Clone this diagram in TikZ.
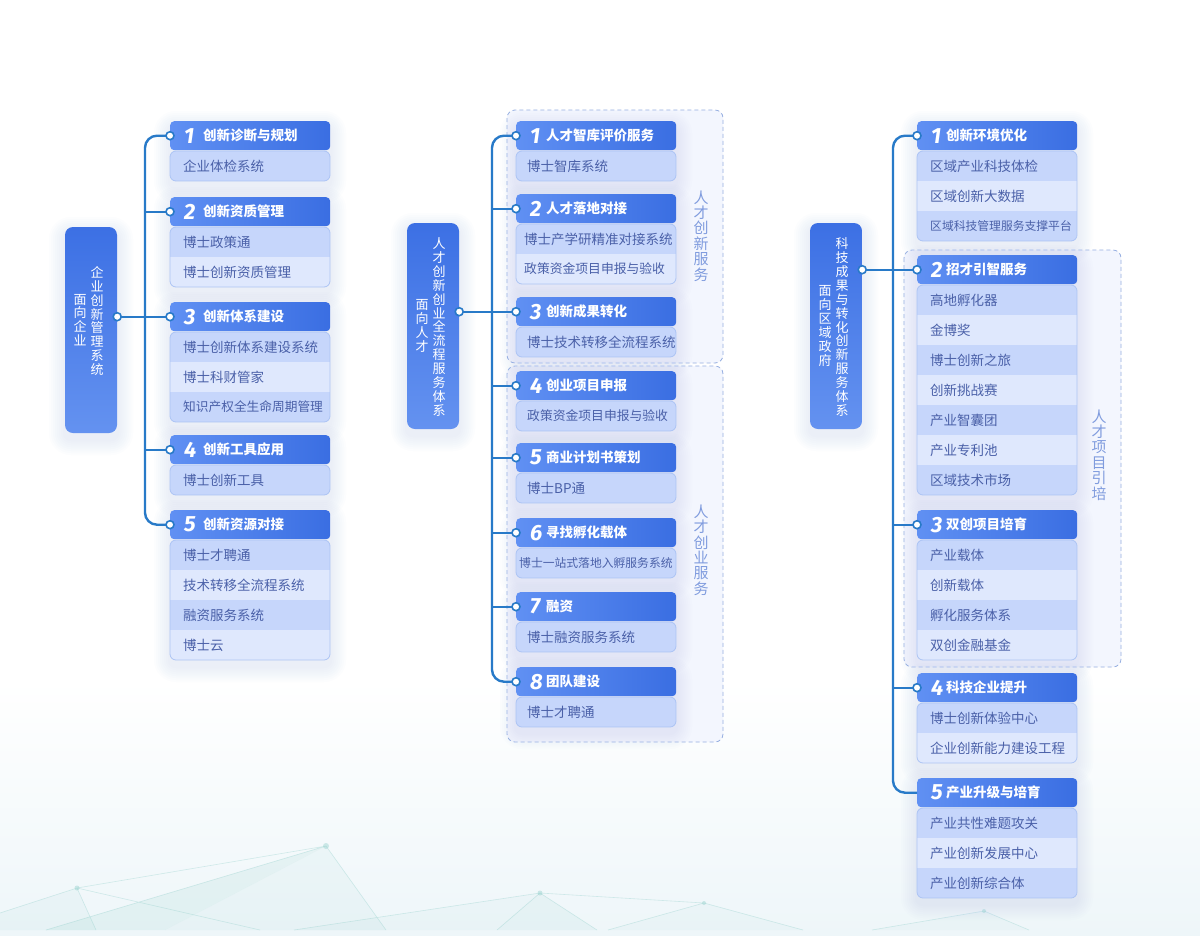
\documentclass[tikz,border=0pt]{standalone}
\usepackage{fontspec}
\setmainfont{Noto Sans CJK SC}
\newfontfamily\numfont{Fira Sans}
\usetikzlibrary{calc}
\definecolor{hdrL}{RGB}{96,144,243}
\definecolor{hdrR}{RGB}{58,110,226}
\definecolor{rowD}{RGB}{198,214,251}
\definecolor{rowL}{RGB}{223,232,253}
\definecolor{rowB}{RGB}{172,196,244}
\definecolor{subtxt}{RGB}{74,96,168}
\definecolor{mainT}{RGB}{60,112,228}
\definecolor{mainB}{RGB}{100,146,240}
\definecolor{spinec}{RGB}{40,122,200}
\definecolor{grpB}{RGB}{150,175,225}
\definecolor{grpF}{RGB}{243,246,254}
\definecolor{grptxt}{RGB}{128,156,222}
\definecolor{shadowc}{RGB}{180,198,242}
\definecolor{bgbot}{RGB}{238,246,249}
\definecolor{polyc}{RGB}{140,205,200}
\tikzset{
 hdr/.style={rectangle, rounded corners=4pt, minimum width=160pt, minimum height=29pt, left color=hdrL, right color=hdrR, inner sep=0pt},
 num/.style={font=\numfont\bfseries\itshape\fontsize{22}{22}\selectfont, text=white, inner sep=0pt},
 ttl/.style={font=\bfseries\fontsize{13.5}{14}\selectfont, text=white, inner sep=0pt},
 subt/.style={font=\fontsize{13.5}{14}\selectfont, text=subtxt, inner sep=0pt, anchor=west},
 spine/.style={draw=spinec, line width=2.4pt},
 dot/.style={circle, draw=spinec, fill=white, line width=1.6pt, minimum size=8pt, inner sep=0pt},
 mainbox/.style={rectangle, rounded corners=8pt, minimum width=52pt, minimum height=206pt, top color=mainT, bottom color=mainB, inner sep=0pt},
 vtext/.style={align=center, text=white, font=\fontsize{13}{13.9}\selectfont, inner sep=0pt},
 grp/.style={draw=grpB, dash pattern=on 4pt off 3pt, fill=grpF, rounded corners=8pt, line width=0.8pt},
 grptext/.style={align=center, text=grptxt, font=\fontsize{15}{15.4}\selectfont, inner sep=0pt},
}
\newcommand\softshadow[4]{%
 \foreach \e in {2,4,...,16} {
   \pgfmathsetmacro\rc{6+\e}
   \fill[shadowc, fill opacity=0.03, rounded corners=\rc pt] ({#1-\e},{#2-\e+6}) rectangle ({#3+\e},{#4+\e+6});
 }}
\def\ttlx{33}
\def\subx{13}
\newcommand\mkbranch[7]{%
 \softshadow{#2}{#3}{#2+160}{#3+30+#6*30}
 \node[hdr, anchor=north west] (#1) at (#2,#3) {};
 \node[num, anchor=west] (#1n) at ([xshift=14pt]#1.west) {#4};
 \node[ttl, anchor=west] (#1t) at ([xshift=\ttlx pt]#1.west) {#5};
 \begin{scope}
  \clip[rounded corners=6pt] (#2,{#3+30}) rectangle ({#2+160},{#3+30+#6*30});
  \fill[rowL] (#2,{#3+30}) rectangle ({#2+160},{#3+30+#6*30});
  \foreach \s [count=\i] in {#7} {
    \ifodd\i \fill[rowD] (#2,{#3+30+(\i-1)*30}) rectangle ({#2+160},{#3+30+\i*30}); \fi
  }
 \end{scope}
 \draw[rowB, line width=0.8pt, rounded corners=6pt] (#2,{#3+30}) rectangle ({#2+160},{#3+30+#6*30});
 \foreach \s [count=\i] in {#7} {
   \node[subt] (#1s\i) at ({#2+\subx},{#3+30+(\i-0.5)*30}) {\s};
 }
}
\begin{document}
\begin{tikzpicture}[x=1pt,y=-1pt]
\useasboundingbox (0,0) rectangle (1200,935);
\fill[white] (0,0) rectangle (1200,935);
\fill[top color=white, bottom color=bgbot] (0,680) rectangle (1200,935);
% low-poly background
\begin{scope}
 \fill[polyc, fill opacity=0.14] (326,846) -- (46,930) -- (165,930) -- cycle;
 \fill[polyc, fill opacity=0.08] (326,846) -- (165,930) -- (386,930) -- cycle;
 \fill[polyc, fill opacity=0.08] (77,888) -- (0,913) -- (0,930) -- (96,930) -- cycle;
 \fill[polyc, fill opacity=0.10] (540,893) -- (497,930) -- (597,930) -- cycle;
 \fill[polyc, fill opacity=0.06] (540,893) -- (294,930) -- (497,930) -- cycle;
 \fill[polyc, fill opacity=0.06] (704,903) -- (608,930) -- (803,930) -- cycle;
 \fill[polyc, fill opacity=0.05] (984,911) -- (872,930) -- (1029,930) -- cycle;
 \draw[polyc, draw opacity=0.35, line width=0.6pt]
   (0,913) -- (77,888) -- (260,930)
   (77,888) -- (96,930)
   (77,888) -- (326,846) -- (46,930)
   (326,846) -- (386,930)
   (294,930) -- (540,893) -- (597,930)
   (540,893) -- (497,930)
   (608,930) -- (704,903) -- (803,930)
   (704,903) -- (540,893)
   (872,930) -- (984,911) -- (1029,930);
 \fill[polyc, fill opacity=0.4] (326,846) circle (3) (77,888) circle (2.5) (540,893) circle (2.5) (704,903) circle (2) (984,911) circle (2);
\end{scope}
% dashed groups
\draw[grp] (507,110) rectangle (723,363);
\draw[grp] (507,366) rectangle (723,742);
\draw[grp] (904,250) rectangle (1121,667);
\node[grptext] (g1) at (701,236) {人\\才\\创\\新\\服\\务};
\node[grptext] (g2) at (701,550) {人\\才\\创\\业\\服\\务};
\node[grptext] (g3) at (1099,455) {人\\才\\项\\目\\引\\培};
% main boxes
\softshadow{65}{227}{117}{433}
\softshadow{407}{223}{459}{429}
\softshadow{810}{223}{862}{429}
\node[mainbox] (LM) at (91,330) {};
\node[vtext] (LMa) at (97,321) {企\\业\\创\\新\\管\\理\\系\\统};
\node[vtext] (LMb) at (80,320) {面\\向\\企\\业};
\node[mainbox] (MM) at (433,326) {};
\node[vtext] (MMa) at (439,327) {人\\才\\创\\新\\创\\业\\全\\流\\程\\服\\务\\体\\系};
\node[vtext] (MMb) at (422,326) {面\\向\\人\\才};
\node[mainbox] (RM) at (836,326) {};
\node[vtext] (RMa) at (842,327) {科\\技\\成\\果\\与\\转\\化\\创\\新\\服\\务\\体\\系};
\node[vtext] (RMb) at (825,326) {面\\向\\区\\域\\政\\府};
% left column
\def\ttlx{33}\def\subx{13}
\mkbranch{L1}{170}{121}{1}{创新诊断与规划}{1}{企业体检系统}
\mkbranch{L2}{170}{197}{2}{创新资质管理}{2}{博士政策通,博士创新资质管理}
\mkbranch{L3}{170}{302}{3}{创新体系建设}{3}{博士创新体系建设系统,博士科财管家,{\fontsize{12.7}{13}\selectfont 知识产权全生命周期管理}}
\mkbranch{L4}{170}{435}{4}{创新工具应用}{1}{博士创新工具}
\mkbranch{L5}{170}{510}{5}{创新资源对接}{4}{博士才聘通,技术转移全流程系统,融资服务系统,博士云}
% middle column
\def\ttlx{30}\def\subx{11}
\mkbranch{M1}{516}{121}{1}{人才智库评价服务}{1}{博士智库系统}
\mkbranch{M2}{516}{194}{2}{人才落地对接}{2}{{\hspace*{-3pt}博士产学研精准对接系统},{\hspace*{-3pt}\fontsize{12.8}{13}\selectfont 政策资金项目申报与验收}}
\mkbranch{M3}{516}{297}{3}{创新成果转化}{1}{博士技术转移全流程系统}
\mkbranch{M4}{516}{371}{4}{创业项目申报}{1}{{\fontsize{12.8}{13}\selectfont 政策资金项目申报与验收}}
\mkbranch{M5}{516}{443}{5}{商业计划书策划}{1}{博士BP通}
\mkbranch{M6}{516}{518}{6}{寻找孵化载体}{1}{{\hspace*{-8pt}\fontsize{11.8}{12}\selectfont 博士一站式落地入孵服务系统}}
\mkbranch{M7}{516}{592}{7}{融资}{1}{博士融资服务系统}
\mkbranch{M8}{516}{667}{8}{团队建设}{1}{博士才聘通}
% right column
\def\ttlx{29}\def\subx{13}
\mkbranch{R1}{917}{121}{1}{创新环境优化}{3}{区域产业科技体检,区域创新大数据,{\fontsize{11.8}{12}\selectfont 区域科技管理服务支撑平台}}
\mkbranch{R2}{917}{255}{2}{招才引智服务}{7}{高地孵化器,金博奖,博士创新之旅,创新挑战赛,产业智囊团,产业专利池,区域技术市场}
\mkbranch{R3}{917}{510}{3}{双创项目培育}{4}{产业载体,创新载体,孵化服务体系,双创金融基金}
\mkbranch{R4}{917}{673}{4}{科技企业提升}{2}{博士创新体验中心,企业创新能力建设工程}
\mkbranch{R5}{917}{778}{5}{产业升级与培育}{3}{产业共性难题攻关,产业创新发展中心,产业创新综合体}
% spines
\coordinate (Lsp) at (145,0);
\coordinate (Msp) at (492,0);
\coordinate (Rsp) at (893,0);
\coordinate (LMd) at (LM.east |- L3.west);
\coordinate (MMd) at (MM.east |- M3.west);
\coordinate (RMd) at (RM.east |- R2.west);
\draw[spine, rounded corners=12pt] (L1.west) -- (L1.west -| Lsp) -- (L5.west -| Lsp) -- (L5.west);
\foreach \n in {L2,L3,L4} \draw[spine] (\n.west -| Lsp) -- (\n.west);
\draw[spine] (LMd) -- (L3.west);
\draw[spine, rounded corners=12pt] (M1.west) -- (M1.west -| Msp) -- (M8.west -| Msp) -- (M8.west);
\foreach \n in {M2,M3,M4,M5,M6,M7} \draw[spine] (\n.west -| Msp) -- (\n.west);
\draw[spine] (MMd) -- (M3.west);
\draw[spine, rounded corners=12pt] (R1.west) -- (R1.west -| Rsp) -- (R5.west -| Rsp) -- (R5.west);
\foreach \n in {R2,R3,R4} \draw[spine] (\n.west -| Rsp) -- (\n.west);
\draw[spine] (RMd) -- (R2.west);
% dots
\foreach \n in {L1,L2,L3,L4,L5,M1,M2,M3,M4,M5,M6,M7,M8,R1,R2,R3,R4} \node[dot] (\n d) at (\n.west) {};
\node[dot] (LMdot) at (LMd) {};
\node[dot] (MMdot) at (MMd) {};
\node[dot] (RMdot) at (RMd) {};
\end{tikzpicture}
\end{document}
